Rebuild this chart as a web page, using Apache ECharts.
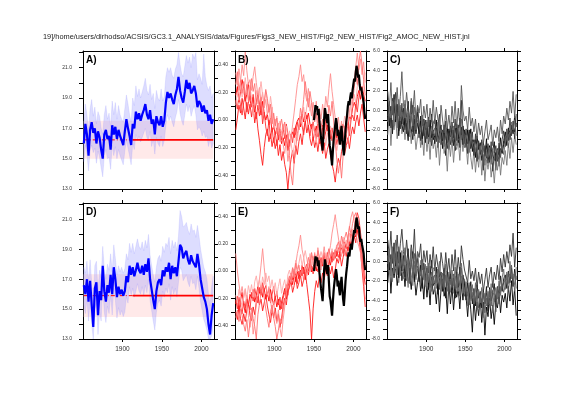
<!DOCTYPE html>
<html>
<head>
	<meta charset="utf-8"/>
	<title>AMOC NEW HIST</title>
</head>
<body style="margin: 0; background: #fff;">

	<div id="chart" style="width: 561px; height: 397px; background: #fff;"></div>

	<script src="https://cdn.jsdelivr.net/npm/echarts@6.0.0/dist/echarts.min.js"></script>
	<script>

		var titleText = '19]/home/users/dirhodso/ACSIS/GC3.1_ANALYSIS/data/Figures/Figs3_NEW_HIST/Fig2_NEW_HIST/Fig2_AMOC_NEW_HIST.jnl';
		var panelNames = ['A)', 'B)', 'C)', 'D)', 'E)', 'F)'];

		// odd years 1851..2015 (two-year sampling), obs annual 1950..2015
		var years = [];
		for (var yy = 1851; yy <= 2015; yy += 2) years.push(yy);
		var obsYears = [];
		for (var oy = 1950; oy <= 2015; oy++) obsYears.push(oy);

		var xTicks = [1900, 1950, 2000];
		var tempTicks = [13, 14, 15, 16, 17, 18, 19, 20, 21, 22];
		var tempLabels = [13, 15, 17, 19, 21];
		var fracTicks = [-0.5, -0.4, -0.3, -0.2, -0.1, 0, 0.1, 0.2, 0.3, 0.4, 0.5];
		var fracLabels = [-0.4, -0.2, 0, 0.2, 0.4];
		var svTicks = [-8, -7, -6, -5, -4, -3, -2, -1, 0, 1, 2, 3, 4, 5, 6];
		var svLabels = [-8, -6, -4, -2, 0, 2, 4, 6];

		// red reference levels and pink ranges (A and D)
		var refLevelA = 16.24, refLevelD = 15.9;
		var refStartYear = 1913;
		var rangeA = [15.0, 17.5], rangeD = [14.47, 17.33];

		// A) blue line and spread
		var blueA = [16.0, 17.3, 16.6, 15.2, 16.9, 17.4, 16.7, 17.0, 16.0, 16.8,
			16.4, 15.6, 15.0, 16.6, 16.9, 16.3, 16.5, 15.6, 17.2, 16.6,
			17.1, 16.3, 16.9, 16.5, 16.2, 15.9, 16.8, 17.6, 17.0, 16.5,
			15.9, 17.3, 17.0, 18.1, 17.6, 18.0, 17.5, 17.9, 18.2, 18.6,
			17.9, 17.6, 18.2, 17.3, 17.6, 16.6, 17.8, 17.4, 17.2, 17.8,
			17.1, 17.5, 18.7, 19.4, 19.0, 19.3, 18.9, 18.6, 19.2, 19.6,
			20.4, 19.5, 19.0, 18.7, 19.4, 20.2, 19.6, 20.0, 19.3, 19.5,
			19.8, 19.3, 18.4, 18.8, 18.6, 18.1, 18.5, 18.0, 18.2, 17.5,
			17.9, 17.3, 17.6];
		var upperA = [17.4, 18.6, 17.9, 16.8, 18.3, 18.9, 17.8, 18.4, 17.3, 18.1,
			17.8, 17.0, 16.6, 17.9, 18.5, 17.6, 18.0, 17.1, 18.8, 17.9,
			18.7, 17.6, 18.5, 17.9, 17.6, 17.4, 18.3, 19.2, 18.6, 17.9,
			17.4, 19.0, 18.5, 19.8, 19.1, 19.6, 19.0, 19.4, 19.8, 20.3,
			19.5, 19.2, 19.9, 18.9, 19.3, 18.3, 19.5, 19.0, 18.8, 19.6,
			18.8, 19.1, 20.4, 21.0, 20.7, 21.0, 20.5, 20.3, 20.9, 21.2,
			22.0, 21.2, 20.6, 20.4, 21.1, 21.8, 21.3, 21.7, 21.0, 21.9,
			21.6, 22.0, 20.2, 20.6, 20.3, 19.9, 21.9, 20.4, 19.8, 19.5,
			19.8, 19.0, 19.3];
		var lowerA = [14.8, 15.9, 15.3, 14.2, 15.5, 15.9, 15.4, 15.7, 14.7, 15.5,
			15.1, 14.4, 13.8, 15.2, 15.6, 15.0, 15.1, 14.3, 15.9, 15.2,
			15.8, 15.0, 15.6, 15.2, 14.9, 14.6, 15.5, 16.2, 15.7, 15.2,
			14.6, 16.0, 15.6, 16.6, 16.2, 16.5, 16.1, 16.4, 16.7, 17.0,
			16.4, 16.2, 16.8, 15.8, 16.3, 15.3, 16.4, 16.0, 15.8, 16.5,
			15.8, 16.2, 17.2, 17.9, 17.5, 17.8, 17.4, 17.1, 17.7, 18.1,
			18.9, 18.0, 17.5, 17.2, 17.9, 18.6, 18.1, 18.5, 17.8, 18.2,
			18.5, 17.9, 16.9, 17.1, 16.9, 16.5, 16.8, 16.4, 16.5, 15.8,
			16.3, 15.7, 16.0];

		// D) blue line and spread
		var blueD = [16.6, 16.0, 17.0, 15.5, 16.9, 15.3, 13.8, 16.4, 16.8, 14.6,
			16.2, 15.6, 17.9, 16.2, 15.5, 16.6, 16.1, 17.3, 16.0, 17.8,
			17.0, 15.8, 16.5, 16.0, 16.3, 15.9, 16.2, 17.2, 16.8, 17.9,
			17.3, 17.8, 17.2, 17.6, 18.1, 17.6, 17.4, 17.9, 17.3, 18.0,
			17.5, 18.4, 17.0, 16.3, 15.6, 15.0, 16.2, 16.8, 17.0, 16.6,
			17.6, 17.2, 17.8, 17.5, 18.1, 17.0, 17.9, 17.4, 17.8, 17.2,
			18.2, 19.3, 19.1, 18.4, 18.7, 18.9, 18.3, 18.0, 18.6, 18.2,
			18.3, 17.8, 18.7, 18.0, 17.0, 16.4, 15.8, 15.5, 15.0, 14.0,
			13.3, 14.6, 15.4];
		var upperD = [17.8, 17.4, 18.2, 16.9, 18.3, 16.8, 15.5, 17.9, 18.2, 16.2,
			17.6, 17.1, 19.2, 17.7, 17.0, 18.0, 17.6, 18.7, 17.5, 19.3,
			18.4, 17.3, 17.9, 17.5, 17.8, 17.4, 17.7, 18.7, 18.3, 19.4,
			18.8, 19.4, 18.7, 19.2, 19.7, 19.2, 19.0, 19.5, 18.9, 19.6,
			19.1, 20.0, 18.6, 17.9, 17.3, 16.8, 17.8, 18.4, 18.6, 18.2,
			19.2, 18.8, 19.4, 19.2, 19.8, 18.7, 19.6, 19.1, 19.5, 18.9,
			19.9, 21.6, 21.2, 20.5, 20.6, 20.8, 20.3, 20.0, 20.7, 20.2,
			20.3, 19.8, 20.6, 19.9, 19.0, 18.4, 17.8, 17.5, 17.0, 16.0,
			15.2, 16.5, 17.2];
		var lowerD = [15.3, 14.7, 15.7, 14.2, 15.6, 14.0, 13.0, 15.0, 15.4, 13.3,
			14.8, 14.2, 16.5, 14.8, 14.1, 15.2, 14.7, 15.9, 14.6, 16.4,
			15.6, 14.4, 15.1, 14.6, 14.9, 14.5, 14.8, 15.8, 15.4, 16.5,
			15.9, 16.4, 15.8, 16.2, 16.7, 16.2, 16.0, 16.5, 15.9, 16.6,
			16.1, 17.0, 15.6, 14.9, 14.2, 13.6, 14.8, 15.4, 15.6, 15.2,
			16.2, 15.8, 16.4, 16.1, 16.7, 15.6, 16.5, 16.0, 16.4, 15.8,
			16.8, 17.8, 17.6, 16.9, 17.1, 17.3, 16.8, 16.5, 17.2, 16.7,
			16.8, 16.3, 17.2, 16.4, 15.5, 14.9, 14.3, 14.0, 13.6, 13.0,
			13.0, 13.2, 13.9];

		// observed AMOC (black, B and E)
		var obsAmoc = [-1.0, -0.3, 0.5, 0.1, 0.4, -0.5, 0.1, -1.2, -2.0, -2.8,
			-3.4, -4.1, -2.5, -0.8, 0.2, 0.1, -0.9, -1.3, -0.4, -2.1,
			-3.6, -4.0, -4.8, -5.6, -4.2, -3.0, -2.2, -1.5, -0.8, -1.4,
			-2.6, -2.0, -2.9, -3.5, -2.4, -1.6, -2.8, -3.9, -4.6, -3.4,
			-2.1, -1.2, -0.5, 0.4, 0.9, 0.5, 1.3, 1.8, 1.2, 2.0,
			2.6, 3.2, 2.9, 3.8, 4.5, 4.1, 3.3, 3.6, 2.6, 2.0,
			2.3, 1.7, 1.9, 0.8, -0.3, -0.9];

		// B) model members
		var memB1 = [1.5, 2.4, 0.8, 1.9, 3.1, 2.2, 0.9, 1.6, 2.8, 1.0,
			0.4, 1.3, -0.2, 0.8, 1.7, 0.6, -0.5, 0.9, -0.3, -1.0,
			-0.4, -1.5, -0.8, -2.2, -1.6, -2.5, -1.8, -3.0, -2.4, -3.4,
			-2.8, -3.6, -2.5, -4.1, -3.2, -3.0, -2.2, -2.8, -1.6, -1.1,
			-0.8, -1.7, -0.4, -1.2, -0.2, -0.9, -0.3, -1.4, -1.9, -1.2,
			-2.3, -1.6, -2.7, -1.9, -2.5, -1.8, -2.9, -2.2, -1.5, -2.6,
			-2.0, -3.1, -2.4, -1.9, -2.8, -2.3, -1.7, -2.6, -1.4, -2.0,
			-1.1, -1.8, -0.6, -0.9, 0.2, 0.8, 0.3, 1.4, 2.0, 1.1,
			2.4, 1.6, 0.9];
		var memB2 = [3.8, 2.5, 4.2, 2.9, 4.6, 3.5, 5.9, 4.0, 2.6, 3.1,
			2.0, 3.4, 4.4, 2.8, 1.5, 2.3, 0.9, 1.8, 0.2, 1.1,
			-0.5, 0.6, -1.2, 0.3, -1.8, -0.9, -2.4, -1.3, -3.2, -2.1,
			-3.5, -4.4, -3.0, -5.2, -4.0, -2.9, -1.5, -0.2, 1.2, 2.6,
			3.4, 4.6, 2.9, 3.6, 1.8, 0.9, 2.2, 0.5, -0.6, 0.8,
			-0.4, 0.9, -1.3, 0.2, -0.9, 0.6, -0.5, 1.4, 0.3, 2.2,
			3.7, 1.9, 0.6, -0.8, -1.9, -0.7, -2.4, -1.1, -3.0, -1.6,
			-2.7, -1.3, -0.2, 1.1, 2.3, 3.0, 4.4, 5.8, 4.1, 5.2,
			3.6, 4.9, 2.8];
		var memB3 = [-2.0, -0.8, 0.5, -0.3, 1.2, 0.2, -0.9, 0.8, -0.4, 0.6,
			-0.7, 0.5, -1.3, -0.2, -1.9, -3.1, -4.5, -5.6, -3.8, -2.5,
			-1.9, -3.2, -2.4, -3.7, -2.8, -3.9, -3.0, -4.6, -3.5, -5.1,
			-4.2, -5.5, -6.3, -8.0, -6.1, -5.0, -4.1, -5.4, -3.6, -4.5,
			-3.2, -2.4, -3.5, -2.0, -1.1, -2.3, -1.5, -2.9, -3.6, -2.7,
			-3.8, -3.0, -4.2, -2.9, -3.5, -4.4, -3.3, -4.9, -4.0, -3.4,
			-4.6, -5.5, -6.2, -7.3, -5.8, -4.9, -5.6, -4.2, -3.5, -4.4,
			-3.6, -2.8, -3.9, -2.5, -1.7, -2.4, -1.2, -0.5, -1.6, -0.3,
			0.6, -0.8, -2.2];
		var memB4 = [0.5, 1.8, 1.0, 2.6, 1.3, 1.9, 3.3, 2.0, 1.2, 2.5,
			1.1, -0.4, 0.9, 2.0, 0.6, 1.7, 2.9, 1.5, 0.4, 1.9,
			0.8, -0.3, 1.4, 0.2, -0.8, -1.5, -0.6, -2.0, -1.1, -2.6,
			-1.4, -2.3, -1.6, -3.0, -2.1, -3.3, -4.5, -3.7, -2.5, -3.1,
			-1.8, -0.6, -1.4, 0.3, -0.9, 0.4, 1.2, -0.1, 0.7, -1.5,
			-2.5, -3.3, -1.8, -2.6, -1.4, -2.8, -1.9, -3.6, -2.3, -3.0,
			-1.6, -2.5, -3.8, -2.9, -4.1, -3.2, -2.0, -3.5, -1.7, -0.6,
			-1.2, 0.4, -0.7, 1.0, 0.3, 1.6, 0.7, 2.4, 3.5, 2.1,
			1.2, 2.9, 3.8];
		var memB5 = [1.0, 0.1, 1.6, 0.4, -0.5, 0.8, 1.5, -0.2, 0.7, 1.9,
			0.3, 1.6, 0.2, -0.9, 0.5, -0.6, 0.8, -1.4, -0.2, -1.7,
			-2.6, -1.0, -2.9, -1.8, -3.3, -2.2, -3.6, -2.7, -1.9, -3.0,
			-1.8, -2.9, -1.4, -2.4, -3.7, -2.4, -3.3, -1.8, -2.6, -1.2,
			-2.0, -0.7, -1.6, -2.5, -1.3, -0.5, -1.8, -2.6, -1.4, -3.1,
			-2.1, -2.9, -1.4, -3.4, -2.2, -1.5, -2.6, -1.0, -2.1, -1.7,
			-2.9, -1.8, -3.0, -2.2, -3.5, -2.6, -3.4, -2.1, -2.9, -1.8,
			-2.3, -1.4, -2.6, -1.0, -0.5, -1.1, 0.6, -0.2, 1.3, 2.5,
			1.8, 0.2, -0.6];
		var memB6 = [2.6, 3.9, 2.0, 3.0, 1.7, 2.9, 1.4, 2.6, 0.9, 1.8,
			3.2, 1.9, 2.7, 0.6, 1.4, 0.1, 1.3, -0.8, 0.9, 2.1,
			1.2, -0.2, 0.6, -1.4, -0.3, -1.6, -0.8, -2.5, -1.7, -0.9,
			-2.0, -1.2, -3.3, -2.4, -4.6, -6.5, -7.6, -5.2, -3.8, -2.4,
			-1.5, 0.2, -0.6, 1.1, 2.9, 1.6, 0.3, 1.9, 0.8, -0.4,
			-1.2, -0.3, -2.0, -0.8, -1.7, -0.9, -2.0, -0.4, -1.3, 0.5,
			-0.6, 0.9, -1.1, -3.2, -5.0, -6.4, -5.1, -6.9, -4.6, -3.7,
			-2.5, -3.4, -1.9, -0.8, 0.9, 2.2, 3.7, 2.6, 4.9, 6.0,
			4.6, 3.1, 1.5];

		// C) model members
		var memC1 = [0.8, -1.2, 0.4, -0.5, 1.6, -0.9, 0.6, -2.1, 0.3, -1.4,
			0.2, -2.0, -0.6, 0.9, -2.3, -0.8, 0.5, -2.6, -1.0, -0.2,
			-2.8, -1.1, -3.5, -0.9, -2.2, -1.2, -3.4, -2.0, -0.4, -3.0,
			-2.6, -1.0, -3.8, -2.2, -1.5, -3.9, -2.1, -4.6, -1.8, -3.2,
			-1.6, -3.3, -2.0, -4.1, -1.4, -2.9, -0.8, -3.0, -1.6, -2.7,
			-3.8, -2.0, -3.4, -1.9, -4.2, -3.0, -4.8, -2.6, -4.0, -3.3,
			-5.1, -3.2, -4.7, -2.9, -5.4, -3.6, -5.0, -4.1, -3.2, -5.6,
			-3.9, -4.6, -2.8, -4.4, -3.1, -2.2, -3.6, -1.8, -3.0, -1.5,
			-2.4, -0.6, -1.7];
		var memC2 = [-0.6, 0.9, -1.8, 1.2, -0.3, 1.8, -1.0, 0.4, -1.9, 0.7,
			-1.5, 0.6, -2.4, -0.3, -1.1, 0.9, -2.2, -0.5, -1.8, 0.4,
			-1.4, -3.1, -0.8, -2.6, -1.0, -2.9, -0.7, -2.5, -3.6, -1.3,
			-0.9, -3.2, -1.6, -0.4, -3.5, -2.0, -3.4, -1.1, -3.9, -2.6,
			-3.5, -1.2, -2.8, -0.9, -3.1, -1.5, -3.8, 1.0, -2.2, -3.4,
			-1.9, -4.4, -2.3, -3.7, -2.2, -4.6, -2.4, -5.2, -3.1, -4.5,
			-3.0, -6.1, -3.6, -4.9, -3.4, -5.3, -3.2, -6.2, -4.4, -3.6,
			-5.2, -3.3, -4.8, -3.0, -2.1, -3.7, -1.9, -3.1, -0.8, -2.6,
			-1.1, -2.9, -0.4];
		var memC3 = [-2.5, -0.4, -3.6, -1.0, -2.0, -0.8, -2.9, -1.5, 0.5, -2.4,
			-1.2, -3.0, -0.7, -2.6, -1.9, -3.4, -1.2, -2.1, -4.0, -2.7,
			-1.9, -3.8, -2.4, -4.6, -2.0, -4.2, -2.6, -5.0, -2.1, -3.9,
			-3.1, -4.8, -2.7, -5.6, -3.3, -2.6, -4.4, -3.5, -6.2, -3.0,
			-4.7, -2.9, -5.3, -3.2, -4.0, -3.0, -5.1, -2.5, -4.2, -2.2,
			-3.5, -5.5, -3.1, -4.8, -6.0, -4.0, -6.3, -4.4, -5.8, -3.9,
			-6.6, -4.5, -7.2, -5.0, -6.0, -4.7, -6.8, -5.4, -7.4, -5.2,
			-6.1, -4.6, -6.6, -4.8, -5.5, -4.1, -5.6, -3.4, -4.9, -2.8,
			-4.3, -2.6, -3.5];
		var memC4 = [1.9, 0.2, 2.8, -0.5, 1.1, 0.0, 2.3, -0.6, 1.4, 3.9,
			0.6, -0.4, 1.8, 0.1, -0.9, 1.2, -0.2, 2.0, -1.1, 0.5,
			-0.3, 1.1, -1.6, 0.4, -0.8, 0.6, -1.7, 0.2, -1.2, 1.0,
			-1.4, 0.3, -0.9, -2.0, 0.5, -1.0, -2.3, 0.1, -1.9, -0.5,
			-2.1, 0.4, -1.3, 0.9, -1.8, 0.2, -1.5, 2.5, 0.0, -1.1,
			-0.6, -2.0, 0.3, -1.6, -0.8, -2.2, -0.9, -2.9, -1.3, -2.5,
			-1.6, -3.4, -2.2, -1.0, -3.0, -2.3, -1.5, -3.6, -2.0, -2.8,
			-1.7, -3.2, -1.0, -2.4, -0.6, -1.4, 0.2, -1.0, 0.9, -0.3,
			1.9, -0.8, 1.6];
		var memC5 = [0.3, -1.6, -0.2, -2.4, 0.6, -1.2, -0.1, -2.6, -0.7, -1.5,
			-2.2, -0.8, -1.6, -3.1, -0.6, -1.9, -3.0, -0.9, -2.4, -1.3,
			-2.4, -0.6, -2.9, -1.7, -3.3, -1.8, -2.7, -1.0, -2.8, -2.0,
			-3.4, -1.8, -2.5, -3.0, -2.1, -3.1, -1.5, -2.9, -3.3, -1.9,
			-2.7, -2.0, -3.6, -1.8, -2.5, -3.3, -2.4, -1.7, -3.5, -2.0,
			-2.8, -3.4, -2.0, -3.9, -3.0, -3.7, -3.0, -4.1, -3.5, -4.4,
			-4.2, -3.8, -4.6, -3.6, -4.4, -4.9, -4.0, -4.5, -5.1, -4.3,
			-4.4, -5.0, -3.9, -4.3, -3.5, -3.0, -2.6, -2.4, -2.1, -1.9,
			-1.6, -2.2, -1.3];
		var memC6 = [-1.2, 0.4, -0.8, 0.9, -1.6, 0.3, -1.8, 1.1, -1.1, -0.2,
			-0.9, 1.0, -1.3, -0.2, -2.7, -0.4, -1.6, 0.3, -2.0, -1.0,
			-1.2, -2.2, -0.5, -1.5, -2.6, -1.0, -2.1, -3.2, -1.6, -2.4,
			-1.8, -2.6, -1.2, -3.3, -2.0, -2.4, -3.7, -2.2, -2.8, -4.0,
			-2.2, -3.0, -1.6, -2.9, -3.6, -1.8, -2.7, -0.9, -2.6, -3.8,
			-2.5, -3.1, -4.3, -2.4, -3.5, -3.2, -4.2, -3.4, -5.0, -3.6,
			-4.6, -3.5, -5.6, -4.1, -4.8, -3.8, -5.5, -3.9, -4.6, -6.1,
			-4.0, -5.7, -4.2, -3.6, -4.5, -3.3, -2.1, -3.8, -2.5, -1.2,
			-2.0, -1.0, -2.6];

		// E) model members
		var memE1 = [-4.4, -3.6, -5.1, -4.0, -3.2, -4.5, -5.3, -3.9, -4.6, -3.4,
			-3.8, -2.9, -4.2, -3.5, -2.6, -3.3, -2.5, -3.7, -2.8, -3.9,
			-3.2, -4.1, -2.9, -3.8, -4.5, -3.6, -4.7, -3.9, -5.0, -4.2,
			-3.5, -2.8, -3.9, -2.6, -2.0, -1.6, -2.4, -1.3, -2.1, -1.0,
			-1.8, -0.9, -1.5, -0.6, -1.9, -0.8, -1.4, -0.3, -1.1, -0.5,
			-0.2, -1.0, 0.4, -0.7, 0.1, -0.5, 0.6, -0.3, 0.9, 0.2,
			-0.4, 0.8, 0.1, 1.2, 0.5, 1.4, 0.6, 1.7, 0.9, 2.0,
			1.3, 2.2, 1.6, 2.8, 2.3, 3.1, 2.5, 3.6, 2.9, 1.8,
			0.7, -1.2, -2.4];
		var memE2 = [0.8, -1.0, -2.3, -3.5, -2.6, -3.8, -2.9, -4.4, -5.6, -6.8,
			-5.3, -7.5, -6.2, -4.4, -3.0, -1.9, -0.4, 1.3, -0.6, -2.2,
			-3.5, -2.6, -4.0, -5.3, -4.1, -5.6, -6.4, -5.0, -6.9, -7.8,
			-6.0, -4.7, -3.2, -2.4, -1.6, -2.2, -0.9, -1.7, -0.3, 0.8,
			1.6, 2.7, 1.2, 0.4, -0.8, -1.5, -0.2, -1.1, 0.6, -0.4,
			0.9, -0.6, 1.4, 0.3, -0.9, 0.4, 1.5, 0.2, -0.7, 0.8,
			1.6, 2.9, 3.8, 4.8, 3.5, 2.4, 1.3, 0.5, 1.8, 0.6,
			1.4, 2.5, 3.4, 4.5, 5.1, 4.2, 3.0, 2.1, 1.5, 0.9,
			-0.6, -1.5, -0.2];
		var memE3 = [-5.2, -6.0, -4.8, -5.9, -6.5, -5.4, -6.2, -5.0, -4.3, -5.6,
			-6.1, -4.7, -5.5, -4.2, -3.6, -4.5, -3.9, -5.1, -4.3, -3.4,
			-4.6, -5.5, -6.3, -5.0, -5.8, -4.8, -6.2, -5.4, -6.8, -5.9,
			-4.6, -3.8, -4.5, -3.1, -2.7, -2.0, -3.2, -2.5, -1.6, -2.8,
			-2.2, -1.4, -2.6, -1.9, -1.1, -2.4, -3.8, -5.2, -8.0, -4.9,
			-3.1, -2.0, -2.7, -1.5, -2.2, -1.2, -1.9, -0.8, -1.5, -0.6,
			-1.3, -0.5, -1.7, -0.9, 0.3, -0.2, 0.7, -0.5, 0.4, 1.2,
			0.5, 1.6, 0.9, 2.1, 1.7, 2.6, 1.9, 3.2, 2.4, 1.1,
			-0.8, -2.6, -4.7];
		var memE4 = [-3.5, -4.3, -2.9, -3.8, -4.7, -3.6, -2.8, -3.9, -2.5, -3.3,
			-2.4, -3.7, -2.1, -1.5, -2.6, -1.8, -2.9, -1.6, -2.4, -1.2,
			-2.1, -1.5, -2.8, -1.9, -3.0, -2.2, -3.5, -2.6, -1.8, -3.3,
			-2.5, -1.9, -3.0, -1.4, -0.9, -1.7, -0.6, -1.2, 0.1, -0.8,
			-0.2, 0.7, -0.5, 0.3, 1.1, 0.2, -0.6, 0.8, -0.3, 0.5,
			-0.4, 0.6, -0.8, 0.2, 1.0, 0.3, -0.5, 0.8, 0.0, 1.2,
			0.5, 1.3, 0.2, 1.0, 1.7, 0.9, 2.1, 1.4, 2.5, 1.6,
			2.2, 1.5, 2.9, 2.0, 3.3, 2.7, 3.9, 4.6, 3.4, 2.2,
			1.3, 0.4, -0.9];
		var memE5 = [-4.0, -4.9, -3.7, -4.6, -5.4, -4.1, -4.8, -3.5, -4.4, -5.0,
			-3.2, -4.1, -2.8, -3.6, -4.3, -2.7, -3.5, -2.2, -3.0, -2.5,
			-3.6, -2.8, -4.3, -3.4, -2.6, -3.9, -3.1, -4.5, -3.7, -4.9,
			-3.8, -3.2, -2.4, -3.5, -2.3, -1.2, -1.9, -0.8, -1.5, -2.3,
			-1.0, -1.6, -0.4, -1.3, -0.7, -0.3, -1.0, 0.2, -0.6, -1.3,
			-0.6, 0.2, -1.1, -0.3, 0.4, -0.2, 0.5, -0.7, 0.3, -0.4,
			0.6, -0.1, 0.9, 0.3, 1.1, 0.4, 1.0, 1.5, 0.8, 1.3,
			1.8, 1.1, 2.0, 1.5, 2.6, 3.3, 4.1, 5.0, 4.4, 3.0,
			1.6, 0.3, -1.8];
		var memE6 = [-5.8, -5.0, -6.2, -4.9, -5.6, -6.5, -7.2, -6.0, -7.8, -6.3,
			-4.8, -5.9, -6.7, -8.0, -5.5, -4.4, -3.2, -2.6, -3.8, -4.9,
			-5.9, -6.8, -5.2, -4.5, -5.8, -6.7, -8.0, -7.1, -5.9, -6.4,
			-5.0, -4.1, -3.3, -2.2, -1.5, -1.9, -0.7, -1.4, -0.2, -1.1,
			-0.4, -1.5, -0.8, -2.0, -1.3, -0.6, 0.4, -0.3, 0.9, 0.1,
			0.7, -0.2, 1.1, 0.3, -0.5, 0.2, 0.9, -0.3, 0.6, 1.3,
			0.4, 1.0, 0.2, 0.8, 1.5, 2.0, 1.2, 2.6, 1.8, 2.4,
			3.0, 2.2, 3.6, 2.8, 3.9, 4.6, 5.0, 4.1, 3.3, 2.0,
			0.5, -2.0, -3.9];

		// F) model members
		var memF1 = [-2.2, -0.1, -3.3, -0.7, -1.7, -0.4, -2.5, -1.1, 0.9, -2.0,
			-0.8, -2.6, -0.3, -2.2, -1.5, -2.9, -0.7, -1.6, -3.5, -2.2,
			-1.2, -3.1, -1.7, -3.9, -1.3, -3.7, -2.1, -4.5, -1.6, -3.4,
			-2.7, -4.4, -2.3, -5.2, -2.9, -1.8, -3.6, -2.7, -5.4, -2.2,
			-4.4, -2.6, -5.0, -2.9, -3.7, -2.8, -4.9, -2.3, -4.0, -2.0,
			-3.7, -5.7, -3.3, -5.0, -7.3, -3.8, -6.1, -4.2, -5.6, -3.7,
			-6.3, -4.2, -7.6, -4.7, -5.7, -3.8, -5.9, -4.5, -6.5, -4.3,
			-4.8, -3.3, -5.3, -3.5, -4.2, -3.3, -4.8, -2.6, -4.1, -2.0,
			-4.5, -2.8, -5.6];
		var memF2 = [2.2, 0.5, 3.1, -0.2, 1.4, 0.4, 2.7, -0.2, 1.8, 3.3,
			1.0, 0.0, 2.2, 0.5, -0.5, 1.7, 0.3, 3.3, -0.6, 1.0,
			0.4, 1.8, -0.9, 1.1, -0.1, 1.1, -1.2, 0.7, -0.7, 1.5,
			-1.0, 0.7, -0.5, -1.6, 0.9, -0.2, -1.5, 0.9, -1.1, 0.3,
			-1.8, 0.7, -1.0, 1.2, -1.5, 0.4, -1.3, 1.6, 0.2, -0.9,
			-0.8, -2.2, 0.1, -1.8, -1.0, -2.0, -0.7, -2.7, -1.1, -2.3,
			-1.3, -3.1, -1.9, -0.7, -2.7, -1.4, -0.6, -2.7, -1.1, -1.9,
			-0.4, -1.9, 0.3, -1.1, 0.7, -0.6, 1.0, -0.2, 1.7, 0.5,
			2.9, -0.6, 1.4];
		var memF3 = [0.6, -1.3, 0.1, -2.1, 0.9, -0.8, 0.3, -2.2, -0.3, -1.1,
			-1.8, -0.4, -1.2, -2.7, -0.2, -1.4, -2.5, -0.4, -1.9, -0.8,
			-1.7, 0.1, -2.2, -1.0, -2.6, -1.3, -2.2, -0.5, -2.3, -1.5,
			-3.0, -1.4, -2.1, -2.6, -1.7, -2.3, -0.7, -2.1, -2.5, -1.1,
			-2.4, -1.7, -3.3, -1.5, -2.2, -3.1, -2.2, -1.5, -3.3, -1.8,
			-3.0, -3.6, -2.2, -4.1, -3.2, -3.5, -2.8, -3.9, -3.3, -4.2,
			-3.9, -3.5, -4.3, -3.3, -4.1, -4.0, -3.1, -3.6, -4.2, -3.4,
			-3.1, -3.7, -2.6, -3.0, -2.2, -2.2, -1.8, -1.6, -1.3, -1.1,
			-1.8, -2.4, -1.5];
		var memF4 = [-0.9, 0.7, -0.5, 1.2, -1.3, 0.7, -1.4, 1.5, -0.7, 0.2,
			-0.5, 1.4, -0.9, 0.2, -2.3, 0.1, -1.1, 0.8, -1.5, -0.5,
			-0.5, -1.5, 0.2, -0.8, -1.9, -0.5, -1.6, -2.7, -1.1, -1.9,
			-1.4, -2.2, -0.8, -2.9, -1.6, -1.6, -2.9, -1.4, -2.0, -3.2,
			-1.9, -2.7, -1.3, -2.6, -3.3, -1.6, -2.5, -0.7, -2.4, -3.6,
			-2.7, -3.3, -4.5, -2.6, -3.7, -3.0, -4.0, -3.2, -4.8, -3.4,
			-4.3, -3.2, -5.3, -3.8, -4.5, -2.9, -4.6, -3.0, -3.7, -5.2,
			-2.7, -4.4, -2.9, -2.3, -3.2, -2.5, -1.3, -3.0, -1.7, -0.4,
			-2.2, -1.2, -2.8];
		var memF5 = [1.1, -0.9, 0.7, -0.2, 1.9, -0.5, 1.0, -1.7, 0.7, -1.0,
			0.6, -1.6, -0.2, 1.3, -1.9, -0.3, 1.0, -2.1, -0.5, 0.3,
			-2.1, -0.4, -2.8, -0.2, -1.5, -0.7, -2.9, -1.5, 0.1, -2.5,
			-2.2, -0.6, -3.4, -1.8, -1.1, -3.1, -1.3, -3.8, -1.0, -2.4,
			-1.3, -3.0, -1.7, -3.8, -1.1, -2.7, -0.6, -2.8, -1.4, -2.5,
			-4.0, -2.2, -3.6, -2.1, -4.4, -2.8, -4.6, -2.4, -3.8, -3.1,
			-4.8, -2.9, -4.4, -2.6, -5.1, -2.7, -4.1, -3.2, -2.3, -4.7,
			-2.6, -3.3, -1.5, -3.1, -1.8, -1.4, -2.8, -1.0, -2.2, -0.7,
			-2.6, -0.8, -1.9];
		var memF6 = [-0.3, 1.2, -1.5, 1.5, 0.0, 2.2, -0.6, 0.8, -1.5, 1.1,
			-1.1, 1.0, -2.0, 0.1, -0.7, 1.4, -1.7, 0.0, -1.3, 0.9,
			-0.7, -2.4, -0.1, -1.9, -0.3, -2.4, -0.2, -2.0, -3.1, -0.8,
			-0.5, -2.8, -1.2, 0.0, -3.1, -1.2, -2.6, -0.3, -3.1, -1.8,
			-3.2, -0.9, -2.5, -0.6, -2.8, -1.3, -3.6, -0.2, -2.0, -3.2,
			-2.1, -4.6, -2.5, -3.9, -2.4, -4.4, -2.2, -5.0, -2.9, -4.3,
			-2.7, -5.8, -3.3, -4.6, -3.1, -4.4, -2.3, -5.3, -3.5, -2.7,
			-3.9, -2.0, -3.5, -1.7, -0.8, -2.9, -1.1, -2.3, 0.0, -1.8,
			-1.3, -3.1, -0.6];

		var redShades = ['#ff0000', '#ff8c8c', '#ff1a1a', '#ffa8a8', '#ff3030', '#ff7070'];
		var greyShades = ['#000000', '#333333', '#777777', '#555555', '#111111', '#666666'];

		var font = 'Liberation Sans, Arial, sans-serif';
		var grids = [
			{ left: 83, top: 51, width: 131, height: 138 },
			{ left: 235, top: 51, width: 131, height: 138 },
			{ left: 387, top: 51, width: 130, height: 138 },
			{ left: 83, top: 203, width: 131, height: 136 },
			{ left: 235, top: 203, width: 131, height: 136 },
			{ left: 387, top: 203, width: 130, height: 136 }
		];

		function pairs(xs, ys) {
			return ys.map(function (v, i) { return [xs[i], v]; });
		}

		function xAxisOf(gi, pos, showLabel) {
			return {
				type: 'value', gridIndex: gi, position: pos,
				min: 1850, max: 2016, interval: 50,
				axisLine: { show: true, onZero: false, lineStyle: { color: '#000', width: 1 } },
				axisTick: { show: true, length: 3, customValues: xTicks, lineStyle: { color: '#000' } },
				axisLabel: {
					show: showLabel, customValues: xTicks, fontSize: 6.5, color: '#333', margin: 7, fontFamily: font,
					formatter: function (v) { return String(v); }
				},
				splitLine: { show: false }
			};
		}

		function yAxisOf(gi, pos, min, max, ticks, labels, digits, margin) {
			return {
				type: 'value', gridIndex: gi, position: pos,
				min: min, max: max,
				axisLine: { show: true, onZero: false, lineStyle: { color: '#000', width: 1 } },
				axisTick: { show: true, length: 4, customValues: ticks, lineStyle: { color: '#000' } },
				axisLabel: {
					show: !!labels, customValues: labels || ticks, fontSize: 5, color: '#333',
					margin: margin, fontFamily: font,
					formatter: function (v) { return Number(v).toFixed(digits); }
				},
				splitLine: { show: false }
			};
		}

		var xAxes = [], yAxes = [];
		for (var g = 0; g < 6; g++) {
			xAxes.push(xAxisOf(g, 'bottom', g >= 3));
			xAxes.push(xAxisOf(g, 'top', false));
		}
		[0, 3].forEach(function (g) {
			yAxes[2 * g] = yAxisOf(g, 'left', 13, 22.1, tempTicks, tempLabels, 1, 11);
			yAxes[2 * g + 1] = yAxisOf(g, 'right', -0.5, 0.5, fracTicks, null, 2, 4);
		});
		[1, 4].forEach(function (g) {
			yAxes[2 * g] = yAxisOf(g, 'left', -0.5, 0.5, fracTicks, fracLabels, 2, 7);
			yAxes[2 * g + 1] = yAxisOf(g, 'right', -8, 6, svTicks, null, 1, 4);
		});
		[2, 5].forEach(function (g) {
			yAxes[2 * g] = yAxisOf(g, 'left', -8, 6, svTicks, svLabels, 1, 7);
			yAxes[2 * g + 1] = yAxisOf(g, 'right', -8, 6, svTicks, null, 1, 4);
		});

		function lineSeries(gi, yIdx, xs, ys, color, width, z, dash) {
			return {
				type: 'line', xAxisIndex: 2 * gi, yAxisIndex: yIdx,
				data: pairs(xs, ys), symbol: 'none', silent: true, z: z,
				lineStyle: { color: color, width: width, type: dash || 'solid' }
			};
		}

		// spread band drawn as one polygon through the axis scales
		function bandSeries(gi, yIdx, lower, upper) {
			var rows = years.map(function (x, i) { return [x, lower[i], upper[i]]; });
			return {
				type: 'custom', xAxisIndex: 2 * gi, yAxisIndex: yIdx, data: rows, z: 2, silent: true,
				encode: { x: 0, y: [1, 2] },
				renderItem: function (params, api) {
					if (params.dataIndex !== 0) return;
					var top = [], bot = [];
					rows.forEach(function (r) {
						top.push(api.coord([r[0], r[2]]));
						bot.push(api.coord([r[0], r[1]]));
					});
					return {
						type: 'polygon',
						shape: { points: top.concat(bot.reverse()) },
						style: { fill: 'rgba(150,150,255,0.32)', stroke: 'rgba(140,140,255,0.3)', lineWidth: 0.6 }
					};
				}
			};
		}

		var series = [];

		function tempPanel(gi, blue, upper, lower, level, range) {
			var yIdx = 2 * gi;
			// pink range
			series.push({
				type: 'line', xAxisIndex: 2 * gi, yAxisIndex: yIdx, data: [], z: 1, silent: true,
				markArea: {
					silent: true, z: 1, itemStyle: { color: '#ffe9e9' },
					data: [[{ xAxis: years[0], yAxis: range[0] }, { xAxis: years[years.length - 1], yAxis: range[1] }]]
				}
			});
			series.push(bandSeries(gi, yIdx, lower, upper));
			// red reference line
			series.push(lineSeries(gi, yIdx, [years[0], refStartYear], [level, level], '#ff0000', 1, 3, [4, 2, 1, 2]));
			series.push(lineSeries(gi, yIdx, [refStartYear, years[years.length - 1]], [level, level], '#ff0000', 1.6, 3));
			// blue line
			series.push(lineSeries(gi, yIdx, years, blue, '#0000ff', 2.2, 4));
		}

		function amocPanel(gi, yIdx, members, shades, withObs) {
			members.forEach(function (m, k) {
				series.push(lineSeries(gi, yIdx, years, m, shades[k], 0.9, 2 + (k % 2)));
			});
			if (withObs) {
				series.push(lineSeries(gi, yIdx, obsYears, obsAmoc, '#000000', 2.2, 5));
			}
		}

		tempPanel(0, blueA, upperA, lowerA, refLevelA, rangeA);
		amocPanel(1, 3, [memB1, memB2, memB3, memB4, memB5, memB6], redShades, true);
		amocPanel(2, 4, [memC1, memC2, memC3, memC4, memC5, memC6], greyShades, false);
		tempPanel(3, blueD, upperD, lowerD, refLevelD, rangeD);
		amocPanel(4, 9, [memE1, memE2, memE3, memE4, memE5, memE6], redShades, true);
		amocPanel(5, 10, [memF1, memF2, memF3, memF4, memF5, memF6], greyShades, false);

		var graphics = [{
			type: 'text', left: 43, top: 33, silent: true,
			style: { text: titleText, fontSize: 7.4, fill: '#222', fontFamily: font }
		}];
		panelNames.forEach(function (name, i) {
			graphics.push({
				type: 'text', left: grids[i].left + 3, top: grids[i].top + 4, silent: true, z: 10,
				style: { text: name, fontSize: 10, fontWeight: 'bold', fill: '#000', fontFamily: font }
			});
		});

		var option = {
			animation: false,
			backgroundColor: '#fff',
			grid: grids,
			xAxis: xAxes,
			yAxis: yAxes,
			series: series,
			graphic: graphics
		};

		var myChart = echarts.init(document.getElementById('chart'), null, { renderer: 'canvas' });
		myChart.setOption(option);

	</script>
</body>
</html>
